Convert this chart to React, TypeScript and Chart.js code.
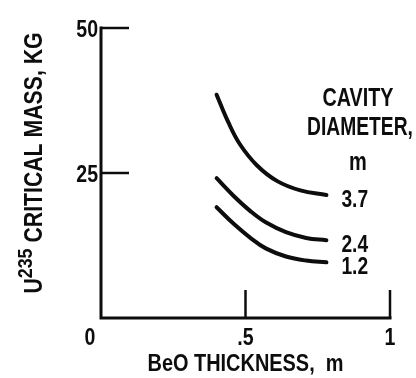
import { useEffect, useRef } from "react";
import { Chart, registerables } from "chart.js";

Chart.register(...registerables);

// Axis ticks
const thicknessTicks = [0, 0.5, 1];
const thicknessTickLabels = ["0", ".5", "1"];
const massTicks = [25, 50];
const massTickLabels = ["25", "50"];

// Cavity diameters, m
const diameterLabels = ["3.7", "2.4", "1.2"];

// BeO thickness (m) vs U-235 critical mass (kg) for each cavity diameter
const thickness37 = [0.4, 0.44, 0.48, 0.54, 0.61, 0.69, 0.78];
const mass37 = [38.5, 33.8, 30.0, 26.3, 23.6, 22.0, 21.2];

const thickness24 = [0.4, 0.46, 0.52, 0.57, 0.64, 0.71, 0.78];
const mass24 = [24.1, 21.0, 18.3, 16.5, 14.8, 13.8, 13.4];

const thickness12 = [0.4, 0.46, 0.52, 0.57, 0.64, 0.71, 0.78];
const mass12 = [19.1, 16.2, 13.7, 12.0, 10.6, 9.9, 9.6];

const FONT = '"Liberation Sans", Arial, sans-serif';
const INK = "#0d0d0d";

function drawText(
  ctx: CanvasRenderingContext2D,
  text: string,
  x: number,
  centerY: number,
  size: number,
  align: "left" | "center" | "right",
  sx = 0.8
) {
  ctx.save();
  ctx.font = `bold ${size}px ${FONT}`;
  ctx.textBaseline = "alphabetic";
  ctx.textAlign = "left";
  const w = ctx.measureText(text).width * sx;
  const x0 = align === "left" ? x : align === "center" ? x - w / 2 : x - w;
  ctx.translate(x0, centerY + size * 0.358);
  ctx.scale(sx, 1);
  ctx.fillStyle = INK;
  ctx.fillText(text, 0, 0);
  ctx.restore();
}

const toPoints = (xs: number[], ys: number[]) => xs.map((x, i) => ({ x, y: ys[i] }));

const axesPlugin = {
  id: "engineeringAxes",
  afterDraw(chart: any) {
    const ctx: CanvasRenderingContext2D = chart.ctx;
    const xs = chart.scales.x;
    const ys = chart.scales.y;
    const x0 = xs.getPixelForValue(0);
    const x1 = xs.getPixelForValue(1);
    const y0 = ys.getPixelForValue(0);
    const yTop = ys.getPixelForValue(50);
    const tickLen = 28;

    ctx.save();
    ctx.strokeStyle = INK;
    ctx.lineWidth = 3;
    ctx.lineCap = "square";
    ctx.beginPath();
    ctx.moveTo(x0, yTop);
    ctx.lineTo(x0, y0);
    ctx.lineTo(x1, y0);
    ctx.stroke();

    // inward ticks
    ctx.lineWidth = 2.5;
    ctx.lineCap = "butt";
    massTicks.forEach((v) => {
      const py = ys.getPixelForValue(v);
      ctx.beginPath();
      ctx.moveTo(x0, py);
      ctx.lineTo(x0 + tickLen, py);
      ctx.stroke();
    });
    thicknessTicks.forEach((v) => {
      if (v === 0) return;
      const px = xs.getPixelForValue(v);
      ctx.beginPath();
      ctx.moveTo(px, y0);
      ctx.lineTo(px, y0 - tickLen);
      ctx.stroke();
    });
    ctx.restore();

    // tick labels
    massTicks.forEach((v, i) => {
      const py = ys.getPixelForValue(v);
      drawText(ctx, massTickLabels[i], x0 - 3, py + 1, 23, "right", 0.85);
    });
    thicknessTicks.forEach((v, i) => {
      const px = xs.getPixelForValue(v) - (v === 0 ? 11 : 0);
      drawText(ctx, thicknessTickLabels[i], px, y0 + 19, 23, "center", 0.85);
    });

    // x title
    drawText(ctx, "BeO THICKNESS,  m", xs.getPixelForValue(0.5), y0 + 44, 24, "center", 0.83);

    // y title, rotated, with superscript
    ctx.save();
    const cy = (yTop + y0) / 2 - 10;
    ctx.translate(42, cy);
    ctx.rotate(-Math.PI / 2);
    ctx.fillStyle = INK;
    const sx = 0.85;
    ctx.font = `bold 25px ${FONT}`;
    const wU = ctx.measureText("U").width * sx;
    const wRest = ctx.measureText(" CRITICAL MASS, KG").width * sx;
    ctx.font = `bold 21px ${FONT}`;
    const wSup = ctx.measureText("235").width * sx;
    let px = -(wU + wSup + wRest) / 2;
    const put = (t: string, size: number, w: number, dy: number) => {
      ctx.save();
      ctx.font = `bold ${size}px ${FONT}`;
      ctx.translate(px, dy);
      ctx.scale(sx, 1);
      ctx.fillText(t, 0, 0);
      ctx.restore();
      px += w;
    };
    put("U", 25, wU, 0);
    put("235", 21, wSup, -10);
    put(" CRITICAL MASS, KG", 25, wRest, 0);
    ctx.restore();

    // legend heading
    const hx = chart.chartArea.right - 32;
    drawText(ctx, "CAVITY", hx, 97.5, 25, "center", 0.79);
    drawText(ctx, "DIAMETER,", hx + 2, 126, 25, "center", 0.77);
    drawText(ctx, "m", hx, 161, 25, "center", 0.8);

    // curve labels at the end of each line
    chart.data.datasets.forEach((ds: any, i: number) => {
      const meta = chart.getDatasetMeta(i);
      const last = meta.data[meta.data.length - 1];
      drawText(ctx, diameterLabels[i], last.x + 15, last.y + 3, 24, "left", 0.8);
    });
  },
};

export default function App() {
  const ref = useRef<HTMLCanvasElement | null>(null);

  useEffect(() => {
    if (!ref.current) return;
    const line = (xs: number[], ys: number[]) => ({
      data: toPoints(xs, ys),
      borderColor: INK,
      borderWidth: 4,
      borderCapStyle: "round" as const,
      pointRadius: 0,
      fill: false,
      tension: 0.4,
    });
    const chart = new Chart(ref.current, {
      type: "line",
      data: {
        datasets: [line(thickness37, mass37), line(thickness24, mass24), line(thickness12, mass12)],
      },
      options: {
        responsive: false,
        animation: false,
        layout: { padding: { left: 101, right: 26, top: 28, bottom: 60 } },
        plugins: { legend: { display: false }, tooltip: { enabled: false } },
        scales: {
          x: { type: "linear", min: 0, max: 1, display: false },
          y: { type: "linear", min: 0, max: 50, display: false },
        },
      },
      plugins: [axesPlugin],
    });
    return () => chart.destroy();
  }, []);

  return (
    <div style={{ position: "fixed", left: 0, top: 0, width: 416, height: 378, background: "#fff" }}>
      <canvas ref={ref} width={416} height={378} />
    </div>
  );
}
